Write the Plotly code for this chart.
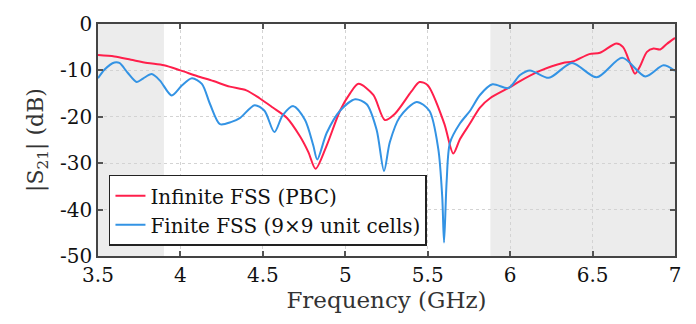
import plotly.graph_objects as go

# Infinite FSS (PBC)
red_f = [3.50, 3.60, 3.70, 3.80, 3.90, 4.00, 4.10, 4.20, 4.30, 4.40, 4.48, 4.56, 4.645, 4.725, 4.776, 4.82,
         4.887, 4.968, 5.03, 5.08, 5.17, 5.24, 5.30, 5.40, 5.45, 5.50, 5.60, 5.655, 5.696, 5.757, 5.817,
         5.878, 6.00, 6.06, 6.18, 6.32, 6.38, 6.48, 6.545, 6.645, 6.685, 6.727, 6.757, 6.788, 6.83, 6.87,
         6.91, 6.95, 7.00]
red_db = [-6.7, -7.0, -7.7, -8.4, -8.9, -10.0, -11.2, -12.3, -13.5, -14.3, -16.0, -18.0, -20.2, -24.2, -27.6, -31.2,
          -26.2, -18.7, -14.9, -12.9, -15.3, -20.7, -19.4, -14.6, -12.5, -13.2, -21.4, -27.9, -24.8, -21.4, -18.0,
          -16.0, -13.6, -12.3, -10.1, -8.4, -8.1, -6.5, -6.2, -4.2, -5.0, -8.4, -10.7, -9.1, -6.0, -5.3,
          -5.5, -4.3, -3.0]

# Finite FSS (9x9 unit cells)
blue_f = [3.50, 3.54, 3.60, 3.63, 3.68, 3.735, 3.775, 3.826, 3.876, 3.947, 4.01, 4.07, 4.13, 4.18, 4.24,
          4.31, 4.36, 4.45, 4.51, 4.57, 4.62, 4.685, 4.756, 4.806, 4.83, 4.887, 4.968, 5.06, 5.13, 5.19,
          5.235, 5.27, 5.33, 5.433, 5.51, 5.564, 5.588, 5.599, 5.615, 5.635, 5.696, 5.757, 5.817, 5.893,
          5.99, 6.06, 6.12, 6.235, 6.375, 6.525, 6.68, 6.82, 6.93, 7.00]
blue_db = [-11.7, -9.8, -8.3, -8.4, -10.5, -12.5, -11.7, -10.8, -12.2, -15.4, -13.2, -11.7, -12.9, -17.3, -21.6,
           -21.1, -20.3, -17.5, -18.7, -23.3, -19.7, -17.7, -20.7, -26.2, -29.2, -23.5, -18.7, -16.2, -17.3, -22.8,
           -31.7, -25.5, -20.1, -16.8, -18.7, -26.9, -37.2, -47.1, -33.8, -25.6, -21.4, -18.7, -15.3, -13.0,
           -13.8, -11.0, -10.0, -11.6, -8.4, -11.5, -7.3, -11.3, -8.9, -10.1]

# shaded bands (GHz)
bands = [(3.5, 3.9), (5.88, 7.0)]

x_ticks = [3.5, 4, 4.5, 5, 5.5, 6, 6.5, 7]
x_labels = ["3.5", "4", "4.5", "5", "5.5", "6", "6.5", "7"]
y_ticks = [0, -10, -20, -30, -40, -50]
y_labels = ["0", "-10", "-20", "-30", "-40", "-50"]

FONT = "DejaVu Serif"
RED = "#FF1F4B"
BLUE = "#3393E4"

fig = go.Figure()
fig.add_trace(go.Scatter(x=red_f, y=red_db, mode="lines", name="Infinite FSS (PBC)",
                         line=dict(color=RED, width=2, shape="spline", smoothing=0.8)))
fig.add_trace(go.Scatter(x=blue_f, y=blue_db, mode="lines", name="Finite FSS (9×9 unit cells)",
                         line=dict(color=BLUE, width=2, shape="spline", smoothing=0.8)))

for x0, x1 in bands:
    fig.add_shape(type="rect", xref="x", yref="paper", x0=x0, x1=x1, y0=0, y1=1,
                  fillcolor="#ECECEC", line=dict(width=0), layer="below")

axis_common = dict(
    showline=True, linecolor="#444444", linewidth=1.5, mirror="ticks",
    ticks="inside", ticklen=5, tickwidth=1.5, tickcolor="#555555",
    showgrid=True, gridcolor="#D3D3D3", gridwidth=1, griddash="3px,3px",
    zeroline=False, tickfont=dict(family=FONT, size=20, color="#111111"),
)

fig.update_xaxes(range=[3.5, 7], tickvals=x_ticks, ticktext=x_labels,
                 title=dict(text="Frequency (GHz)", font=dict(family=FONT, size=23, color="#333333"), standoff=6),
                 **axis_common)
fig.update_yaxes(range=[-50, 0], tickvals=y_ticks, ticktext=y_labels,
                 title=dict(text="|S<sub>21</sub>| (dB)", font=dict(family=FONT, size=22, color="#333333"), standoff=10),
                 **axis_common)

fig.update_layout(
    width=696, height=324,
    margin=dict(l=98, r=21, t=12, b=68),
    plot_bgcolor="white", paper_bgcolor="white",
    font=dict(family=FONT, color="#111111"),
    legend=dict(x=0.019, y=0.044, xanchor="left", yanchor="bottom",
                bgcolor="white", bordercolor="#222222", borderwidth=1.5,
                font=dict(family=FONT, size=20, color="#111111"),
                itemwidth=30, tracegroupgap=0),
    showlegend=True,
)

fig.write_html("out.html")
